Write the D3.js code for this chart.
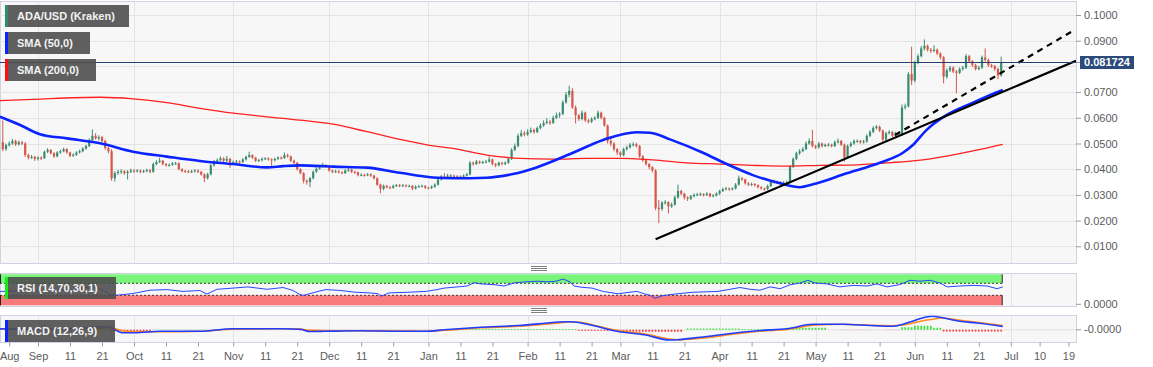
<!DOCTYPE html>
<html>
<head>
<meta charset="utf-8">
<script src="https://cdn.jsdelivr.net/npm/d3@7"></script>
<style>
  body { margin: 0; background: #fff; }
  svg { display: block; font-family: "Liberation Sans", Arial, sans-serif; }
</style>
</head>
<body>
<svg id="chart" width="1153" height="367"></svg>
<script>
// ADA/USD daily candles, first one on 2019-08-21. Prices in 1e-4 USD.
const firstOpen = 505;
const closes = [
  478,494,500,510,497,505,500,455,445,448, 440,445,443,468,475,462,450,465,470,478,
  465,452,456,465,470,480,490,513,530,520, 525,510,482,470,365,385,390,392,385,390,
  395,392,395,390,393,396,390,420,428,433, 420,415,417,422,423,400,393,392,390,392,
  395,390,380,365,380,415,430,435,442,433, 440,425,428,430,428,438,448,455,445,433,
  435,440,442,438,435,440,445,443,455,450, 433,425,400,385,355,350,365,390,402,410,
  415,412,395,390,392,388,385,395,398,390, 388,377,378,377,380,375,365,340,324,335,
  330,328,335,338,335,337,335,335,325,332, 334,335,328,327,332,340,360,372,370,375,
  375,370,372,370,375,380,425,420,430,425, 428,430,438,420,415,425,420,425,440,475,
  490,530,540,535,545,552,545,560,570,580, 585,580,600,610,615,660,690,705,640,610,
  595,620,590,585,595,600,620,600,570,510, 500,478,465,455,478,485,495,497,490,450,
  435,420,408,395,250,245,270,272,255,262, 290,315,305,290,285,295,300,302,303,300,
  305,295,298,305,315,322,325,322,325,340, 365,360,345,340,342,338,330,325,322,335,
  352,348,350,345,348,350,410,440,462,470, 478,500,510,490,485,500,490,495,495,490,
  505,510,495,445,490,500,510,510,505,508, 530,545,560,565,550,515,540,545,530,540,
  535,640,645,770,745,815,840,870,880,865, 860,865,850,835,760,785,795,780,775,790,
  795,840,820,805,790,795,835,825,805,800, 790,765,817
];
const highs = [
  590,500,508,518,515,512,510,505,460,455, 452,450,450,472,482,478,466,470,476,484,
  482,468,462,470,476,486,495,520,555,540, 532,530,515,488,478,392,398,400,396,396,
  402,400,400,399,398,402,400,426,435,445, 436,424,422,428,428,427,404,398,396,397,
  400,399,393,384,386,420,436,442,450,446, 452,444,434,436,434,443,453,468,458,448,
  440,446,447,446,442,445,450,450,465,460, 453,437,428,404,388,360,370,395,408,416,
  425,420,415,399,398,396,392,400,408,402, 394,391,384,382,385,384,378,368,344,340,
  339,334,340,343,342,342,341,340,338,337, 339,340,338,332,337,345,366,378,385,382,
  381,379,377,376,380,386,432,430,436,434, 433,436,450,442,424,430,428,431,446,482,
  500,538,552,548,555,562,558,566,578,590, 598,592,608,620,622,668,700,725,715,648,
  615,628,624,596,602,606,628,624,604,574, 520,505,482,470,484,492,502,505,503,494,
  455,440,424,412,400,280,276,280,276,270, 298,340,320,308,294,300,306,308,309,307,
  311,308,303,310,320,328,331,329,330,346, 375,370,363,350,348,346,341,334,329,340,
  358,360,356,354,353,356,416,446,468,478, 486,508,520,553,495,506,504,500,502,499,
  512,520,514,500,496,506,516,516,514,514, 536,552,568,572,570,554,546,552,549,546,
  545,652,655,778,877,822,848,880,905,885, 872,882,870,855,840,792,802,800,786,796,
  802,848,845,824,810,802,842,870,830,810, 806,795,838
];
const lows = [
  470,472,488,495,490,492,494,448,438,440, 432,434,436,440,463,458,444,446,460,466,
  460,447,448,452,461,466,476,486,508,515, 512,505,476,462,355,352,378,382,378,360,
  385,386,387,384,385,388,384,386,415,424, 415,410,410,413,417,396,388,386,384,385,
  387,384,375,350,360,376,410,426,430,428, 428,405,420,423,422,424,434,444,440,428,
  428,430,436,433,410,430,436,438,440,445, 428,420,395,380,345,340,330,360,386,398,
  405,406,390,384,385,383,380,381,390,385, 382,372,372,371,373,370,360,335,306,318,
  325,322,324,331,330,331,330,330,318,321, 328,329,323,322,323,328,336,356,365,366,
  369,365,366,365,366,371,376,414,416,420, 420,423,426,415,408,411,415,416,421,436,
  470,485,525,528,530,540,538,540,555,565, 575,572,576,595,600,610,655,680,635,578,
  588,590,584,578,580,590,596,594,565,500, 490,470,455,448,450,472,480,488,484,444,
  428,414,400,388,240,190,238,262,228,250, 258,285,298,282,276,280,290,295,297,294,
  296,290,291,294,300,311,318,316,318,321, 336,354,340,334,335,332,325,320,316,318,
  330,343,342,339,340,342,345,405,435,456, 466,474,495,485,478,480,484,486,488,485,
  486,500,490,429,440,485,495,503,499,500, 503,525,540,555,545,505,510,535,525,526,
  530,530,632,640,728,738,808,835,862,858, 852,855,844,828,734,752,778,774,695,770,
  784,790,815,798,784,785,790,818,798,794, 783,750,760
];
const lastPrice = 0.081724;

// moving averages (day offset from 2019-09-01, price 1e-4)
const sma50Days = [-11.9,-5.6,0.6,9,19.4,29.7,40.3,50.6,61,71.6,76.6,81.9,92.2,102.8,113.1,123.4,129.7,140.2,148.4,155.8,
  166.3,176.6,187.1,191.3,197.5,207.8,215.2,223.4,231.9,238.1,242.2,252.7,263.1,270.3,273.4,277.7,284,292.2,298.4,301.5];
const sma50Vals = [604,572,536,520,501,468,449,432,420,407,412,415,410,406,386,368,365,367,381,407,
  459,514,544,542,516,464,420,377,345,330,341,384,425,464,494,553,611,659,693,708];
const sma200Days = [-11.9,-1.6,19.4,29.7,40.3,50.6,61,71.6,81.9,92.2,102.8,113.1,123.4,129.7,140.2,150.6,
  161,171.5,181.9,192.2,202.7,213.1,223.4,234,244.4,252.7,263.1,273.4,284,294.4,301.5];
const sma200Vals = [667,672,680,674,659,637,618,604,591,575,546,516,491,481,455,442,
  439,442,442,436,425,420,415,412,415,416,423,432,451,477,497];

// hand drawn trend lines
const trendDays = [193, 324.4];
const trendVals = [127, 822];
const channelDays = [267.8, 323.4];
const channelVals = [533, 938];

// RSI (14,70,30,1)
const rsiDays = [-11.9,-5.6,0.6,6.9,13.1,16.9,18.4,20.6,22.5,24.4,27.2,29.7,35,40.3,45.3,50.6,52.8,55.9,60.9,65.6,
  71.6,76.6,79.7,81.9,83.1,87.5,90,94.7,99.4,103.8,106.3,107.2,109.7,115.3,121.3,124.7,126.9,134.1,136.3,138.4,
  143.1,145.6,149.1,152.5,155.9,159.4,161.9,164.1,166.3,167.5,169.7,173.1,176.6,181.3,184.7,187.2,189.4,191.3,192.8,195.3,
  199.7,204.4,212.5,219.4,222.5,225.6,228.8,231.9,235,238.1,240.6,242.8,246.6,250.6,254.7,259.1,262.2,265.3,269.4,272.5,
  275.6,278.8,281.9,284.1,288.1,292.2,296.6,299.7,301.5];
const rsiVals = [43,44,44,46,50,62,56,45,32,30,33,36,47,49,43,46,34,50,54,58,
  50,56,46,32,30,43,49,46,40,38,35,27,38,40,43,49,54,61,72,68,
  65,61,72,75,77,75,77,84,75,61,57,54,43,35,40,43,35,30,20,29,
  35,40,43,56,50,47,58,52,65,71,80,71,68,58,63,61,68,58,66,80,
  77,80,71,58,61,63,61,52,58];

// MACD (12,26,9), values in 1e-4
const macdDays = [-11.9,0.6,13.1,20.6,22.8,26.3,30.3,38.1,50.6,60.9,76.6,81.9,85,89.7,100.6,113.1,121.3,126.9,138.4,150,
  158.4,162.8,166.3,169.4,173.1,181.3,189.4,197.5,199.7,206.9,218.4,225.6,234.1,242.2,251.6,260,267.2,272.5,277.2,279.7,
  281.9,288.1,293.4,301.5];
const macdVals = [4,2,6,12,8,-12,-12,-6,-6,4,4,2,-7,-6,-4,-6,-6,0,10,17,
  26,31,32,28,18,-7,-20,-41,-40,-30,-12,-3,4,22,22,17,14,31,50,54,
  50,34,27,13];
const signalVals = [2,2,4,6,8,-4,-8,-8,-6,2,4,3,-2,-4,-4,-5,-6,-2,8,14,
  22,27,32,30,20,-3,-16,-37,-40,-34,-16,-6,1,18,22,18,16,24,38,42,
  47,38,30,17];
// histogram read as runs of days with about the same bar height
const histFrom = [19,23,36,58,82,92,126,169,182,203,220,234,251,265,270,274,280,283];
const histTo   = [22,35,57,81,91,125,168,181,201,219,233,246,260,269,273,279,282,301];
const histVals = [4,-6,2,1,-3,-2,3,-4,-8,5,3,8,-2,-2,10,16,8,-7];

const priceTicks = [0.01,0.02,0.03,0.04,0.05,0.06,0.07,0.08,0.09,0.10];
// 0.0800 sits under the last price tag, so it gets a grid line but no label
const priceLabels = [0.01,0.02,0.03,0.04,0.05,0.06,0.07,0.09,0.10];
const tickDates = ["2019-08-23","2019-09-01","2019-09-11","2019-09-21","2019-10-01","2019-10-11","2019-10-21",
  "2019-11-01","2019-11-11","2019-11-21","2019-12-01","2019-12-11","2019-12-21","2020-01-01","2020-01-11","2020-01-21",
  "2020-02-01","2020-02-11","2020-02-21","2020-03-01","2020-03-11","2020-03-21","2020-04-01","2020-04-11","2020-04-21",
  "2020-05-01","2020-05-11","2020-05-21","2020-06-01","2020-06-11","2020-06-21","2020-07-01","2020-07-10","2020-07-19"];
const tickLabels = ["Aug","Sep","11","21","Oct","11","21","Nov","11","21","Dec","11","21","Jan","11","21",
  "Feb","11","21","Mar","11","21","Apr","11","21","May","11","21","Jun","11","21","Jul","10","19"];

const DAY = 864e5;
const START = Date.UTC(2019, 7, 21);
const SEP1 = Date.UTC(2019, 8, 1);
const fromSep = d => new Date(SEP1 + d * DAY);

const plotRight = 1076;
const mainP = {top: 1.5, bottom: 263.5};
const rsiP = {top: 273.5, bottom: 306.5};
const macdP = {top: 315.5, bottom: 342.5};

const x = d3.scaleUtc()
  .domain([fromSep(-11.875), fromSep(324.375)])
  .range([0, plotRight]);
const y = d3.scaleLinear().domain([0, 1000]).range([272, 15]);
const yRsi = d3.scaleLinear().domain([0, 100]).range([304.3, 274.3]);
const yMacd = d3.scaleLinear().domain([-49, 58]).range([342, 315.3]);

const svg = d3.select('#chart');
const defs = svg.append('defs');

function panel(id, p) {
  defs.append('clipPath').attr('id', id)
    .append('rect').attr('x', 0).attr('y', p.top).attr('width', plotRight).attr('height', p.bottom - p.top);
  svg.append('rect')
    .attr('x', 0.5).attr('y', p.top)
    .attr('width', plotRight).attr('height', p.bottom - p.top)
    .attr('fill', '#f7f7f7')
    .attr('stroke', '#cdd3e2');
  const g = svg.append('g').attr('clip-path', `url(#${id})`);
  // month grid lines
  g.selectAll('line.vgrid')
    .data(d3.utcMonth.range(new Date(SEP1), new Date(Date.UTC(2020, 6, 2))))
    .enter().append('line')
    .attr('class', 'vgrid')
    .attr('x1', d => Math.round(x(d)) + 0.5).attr('x2', d => Math.round(x(d)) + 0.5)
    .attr('y1', p.top).attr('y2', p.bottom)
    .attr('stroke', '#e4e4e4');
  return g;
}

// ---------- main price panel ----------
const gMain = panel('clip-main', mainP);
gMain.selectAll('line.hgrid')
  .data(priceTicks)
  .enter().append('line')
  .attr('class', 'hgrid')
  .attr('x1', 0).attr('x2', plotRight)
  .attr('y1', d => Math.round(y(d * 10000)) + 0.5).attr('y2', d => Math.round(y(d * 10000)) + 0.5)
  .attr('stroke', '#e4e4e4');

const candles = closes.map((c, i) => ({
  date: new Date(START + i * DAY),
  open: i ? closes[i - 1] : firstOpen,
  close: c,
  high: highs[i],
  low: lows[i]
}));
const upColor = '#3a8d70', downColor = '#d4584a';
const candleColor = d => d.close >= d.open ? upColor : downColor;

const cg = gMain.append('g').attr('class', 'candles');
cg.selectAll('line.wick')
  .data(candles)
  .enter().append('line')
  .attr('class', 'wick')
  .attr('x1', d => x(d.date)).attr('x2', d => x(d.date))
  .attr('y1', d => y(d.high)).attr('y2', d => y(d.low))
  .attr('stroke', candleColor)
  .attr('stroke-width', 1);
cg.selectAll('rect.body')
  .data(candles)
  .enter().append('rect')
  .attr('class', 'body')
  .attr('x', d => x(d.date) - 1.1)
  .attr('width', 2.2)
  .attr('y', d => y(Math.max(d.open, d.close)))
  .attr('height', d => Math.max(1, Math.abs(y(d.open) - y(d.close))))
  .attr('fill', candleColor);

const smaLine = d3.line()
  .x(d => x(fromSep(d[0])))
  .y(d => y(d[1]))
  .curve(d3.curveMonotoneX);

gMain.append('path')
  .datum(d3.zip(sma200Days, sma200Vals))
  .attr('d', smaLine)
  .attr('fill', 'none')
  .attr('stroke', '#ff1f1f')
  .attr('stroke-width', 1.3);
gMain.append('path')
  .datum(d3.zip(sma50Days, sma50Vals))
  .attr('d', smaLine)
  .attr('fill', 'none')
  .attr('stroke', '#0b23ff')
  .attr('stroke-width', 2.6);

const straight = d3.line().x(d => x(fromSep(d[0]))).y(d => y(d[1]));
gMain.append('path')
  .datum(d3.zip(channelDays, channelVals))
  .attr('d', straight)
  .attr('fill', 'none')
  .attr('stroke', '#000')
  .attr('stroke-width', 2.2)
  .attr('stroke-dasharray', '6,5');
gMain.append('path')
  .datum(d3.zip(trendDays, trendVals))
  .attr('d', straight)
  .attr('fill', 'none')
  .attr('stroke', '#000')
  .attr('stroke-width', 2.2);

// last price line
const yLast = Math.round(y(lastPrice * 10000)) + 0.5;
gMain.append('line')
  .attr('x1', 0).attr('x2', plotRight)
  .attr('y1', yLast).attr('y2', yLast)
  .attr('stroke', '#24406e')
  .attr('stroke-width', 1);

// ---------- RSI panel ----------
const gRsi = panel('clip-rsi', rsiP);
const rsiEnd = x(new Date(START + (closes.length - 1) * DAY)) + 1;
gRsi.append('rect')
  .attr('x', 0).attr('width', rsiEnd)
  .attr('y', yRsi(100)).attr('height', yRsi(70) - yRsi(100))
  .attr('fill', '#7af47a');
gRsi.append('rect')
  .attr('x', 0).attr('width', rsiEnd)
  .attr('y', yRsi(30)).attr('height', yRsi(0) - yRsi(30) + 1)
  .attr('fill', '#f97b7b');
[[100, 70], [30, 0]].forEach(([a, b]) => {
  [0.5, rsiEnd].forEach(xx => {
    gRsi.append('line')
      .attr('x1', xx).attr('x2', xx)
      .attr('y1', yRsi(a)).attr('y2', yRsi(b) + (b === 0 ? 1 : 0))
      .attr('stroke', '#222').attr('stroke-width', 1);
  });
});
[70, 30].forEach(v => {
  gRsi.append('line')
    .attr('x1', 0).attr('x2', rsiEnd)
    .attr('y1', yRsi(v)).attr('y2', yRsi(v))
    .attr('stroke', '#111')
    .attr('stroke-width', 0.8)
    .attr('stroke-dasharray', '2,2');
});
gRsi.append('path')
  .datum(d3.zip(rsiDays, rsiVals))
  .attr('d', d3.line().x(d => x(fromSep(d[0]))).y(d => yRsi(d[1])))
  .attr('fill', 'none')
  .attr('stroke', '#2846ff')
  .attr('stroke-width', 1);

// ---------- MACD panel ----------
const gMacd = panel('clip-macd', macdP);
gMacd.append('line')
  .attr('x1', 0).attr('x2', plotRight)
  .attr('y1', yMacd(0)).attr('y2', yMacd(0))
  .attr('stroke', '#e2e2e2');

const bars = [];
histFrom.forEach((from, k) => {
  d3.range(from, histTo[k] + 1).forEach(d => bars.push({day: d, v: histVals[k]}));
});
gMacd.selectAll('rect.hist')
  .data(bars)
  .enter().append('rect')
  .attr('class', 'hist')
  .attr('x', d => x(fromSep(d.day)) - 0.8)
  .attr('width', 1.6)
  .attr('y', d => Math.min(yMacd(0), yMacd(d.v)))
  .attr('height', d => Math.abs(yMacd(d.v) - yMacd(0)))
  .attr('fill', d => d.v >= 0 ? '#19e619' : '#ff1a1a')
  .attr('opacity', d => Math.abs(d.v) < 3 ? 0.35 : 0.9);

const macdLine = d3.line()
  .x(d => x(fromSep(d[0])))
  .y(d => yMacd(d[1]))
  .curve(d3.curveMonotoneX);
gMacd.append('path')
  .datum(d3.zip(macdDays, signalVals))
  .attr('d', macdLine)
  .attr('fill', 'none')
  .attr('stroke', '#ff8a1e')
  .attr('stroke-width', 1.6);
gMacd.append('path')
  .datum(d3.zip(macdDays, macdVals))
  .attr('d', macdLine)
  .attr('fill', 'none')
  .attr('stroke', '#1f3cff')
  .attr('stroke-width', 1.6);

// ---------- legends ----------
function legend(x0, y0, w, color, label) {
  const g = svg.append('g').attr('transform', `translate(${x0},${y0})`);
  g.append('rect').attr('width', w).attr('height', 22).attr('fill', 'rgba(78,78,78,0.9)');
  g.append('rect').attr('width', 3).attr('height', 22).attr('fill', color);
  g.append('text')
    .attr('x', 12).attr('y', 11).attr('dy', '0.36em')
    .attr('fill', '#f2f2f2')
    .attr('font-size', 11).attr('font-weight', 'bold')
    .text(label);
}
legend(5, 5, 124, '#2f8a6e', 'ADA/USD (Kraken)');
legend(5, 32, 85, '#0b23ff', 'SMA (50,0)');
legend(5, 59, 91, '#ff1010', 'SMA (200,0)');
legend(5, 277, 111, '#12f012', 'RSI (14,70,30,1)');
legend(5, 320, 110, '#0b23ff', 'MACD (12,26,9)');

// panel resize handles
[266, 308].forEach(hy => {
  [0, 2, 4].forEach(o => {
    svg.append('line')
      .attr('x1', 531).attr('x2', 547)
      .attr('y1', hy + o + 0.5).attr('y2', hy + o + 0.5)
      .attr('stroke', '#808080');
  });
});

// ---------- axes ----------
const axisFont = g => g.selectAll('text').attr('font-size', 11).attr('fill', '#5c5c5c')
  .attr('font-family', '"Liberation Sans", Arial, sans-serif');

svg.append('g')
  .attr('transform', `translate(${plotRight},0)`)
  .call(d3.axisRight(y).tickValues(priceLabels.map(v => v * 10000)).tickSize(5).tickPadding(3)
    .tickFormat(v => d3.format('.4f')(v / 10000)))
  .call(g => g.select('.domain').remove())
  .call(g => g.selectAll('line').attr('stroke', '#9a9a9a'))
  .call(axisFont);

[[yRsi(0), '0.0000'], [yMacd(0), '-0.0000']].forEach(([ty, label]) => {
  svg.append('line').attr('x1', plotRight).attr('x2', plotRight + 5)
    .attr('y1', ty).attr('y2', ty).attr('stroke', '#9a9a9a');
  svg.append('text').attr('x', plotRight + 8).attr('y', ty).attr('dy', '0.32em')
    .attr('font-size', 11).attr('fill', '#5c5c5c').text(label);
});

// last price tag
svg.append('line').attr('x1', plotRight).attr('x2', 1080)
  .attr('y1', yLast).attr('y2', yLast).attr('stroke', '#9a9a9a');
svg.append('rect')
  .attr('x', 1080).attr('y', yLast - 6.5)
  .attr('width', 54).attr('height', 13)
  .attr('fill', '#2c4a7a');
svg.append('text')
  .attr('x', 1107).attr('y', yLast).attr('dy', '0.35em')
  .attr('text-anchor', 'middle')
  .attr('fill', '#fff').attr('font-size', 11).attr('font-weight', 'bold')
  .text(d3.format('.6f')(lastPrice));

const tickTimes = tickDates.map(s => new Date(s + 'T00:00:00Z'));
svg.append('g')
  .attr('transform', `translate(0,${macdP.bottom})`)
  .call(d3.axisBottom(x).tickValues(tickTimes).tickSize(4).tickPadding(6)
    .tickFormat((d, i) => tickLabels[i]))
  .call(g => g.select('.domain').remove())
  .call(g => g.selectAll('line').attr('stroke', '#9a9a9a'))
  .call(axisFont);
</script>
</body>
</html>
